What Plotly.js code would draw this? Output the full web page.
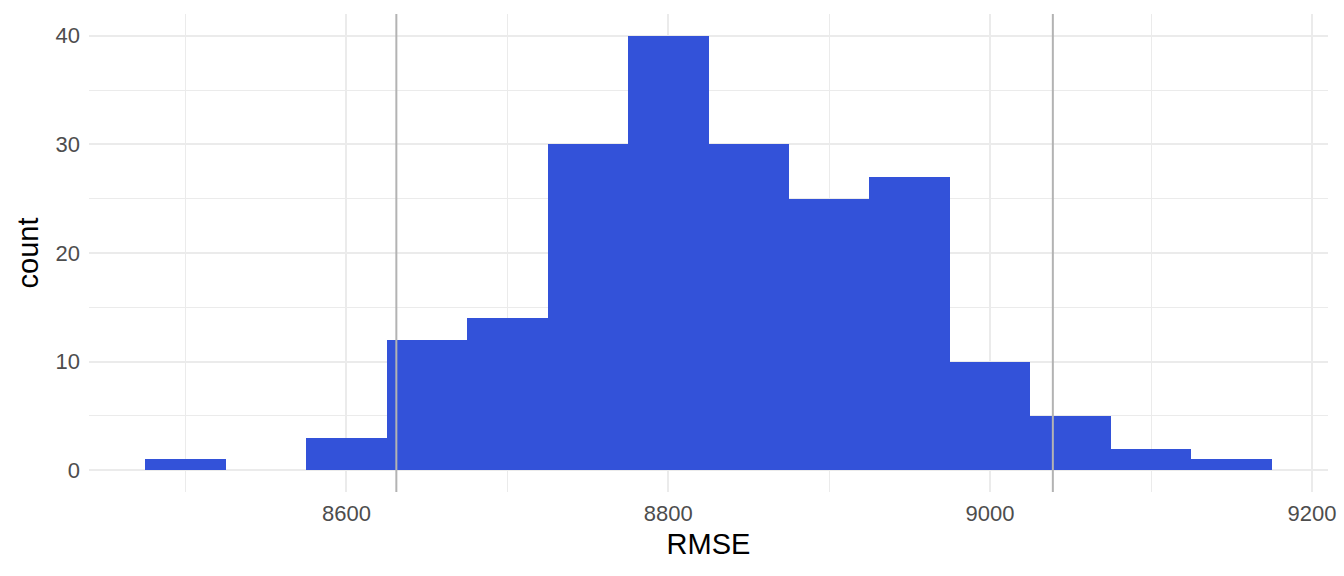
<!DOCTYPE html>
<html>
<head>
<meta charset="utf-8">
<script src="https://cdn.plot.ly/plotly-3.0.1.min.js"></script>
<style>html,body{margin:0;padding:0;background:#fff}#chart{width:1344px;height:576px}</style>
</head>
<body>
<div id="chart"></div>
<script>
const binCenters = [8500, 8550, 8600, 8650, 8700, 8750, 8800, 8850, 8900, 8950, 9000, 9050, 9100, 9150];
const counts = [1, 0, 3, 12, 14, 30, 40, 30, 25, 27, 10, 5, 2, 1];
const binWidth = 50;
const intervalLines = [8631, 9039];
const xTicks = [8600, 8800, 9000, 9200];
const yTicks = [0, 10, 20, 30, 40];

const trace = {
  type: 'bar',
  x: binCenters,
  y: counts,
  width: binCenters.map(() => binWidth),
  marker: {color: '#3352D9', line: {width: 0}},
  hoverinfo: 'x+y'
};

const shapes = intervalLines.map(v => ({
  type: 'line', xref: 'x', yref: 'paper', x0: v, x1: v, y0: 0, y1: 1,
  line: {color: '#B3B3B3', width: 2}, layer: 'above'
}));

const layout = {
  width: 1344, height: 576,
  margin: {l: 89, r: 16, t: 14, b: 84},
  paper_bgcolor: '#fff', plot_bgcolor: '#fff',
  font: {family: 'Liberation Sans, Arial, sans-serif', color: '#4D4D4D', size: 22},
  bargap: 0,
  showlegend: false,
  shapes: shapes,
  xaxis: {
    range: [8440, 9210],
    tickvals: xTicks, ticktext: xTicks.map(String),
    tickfont: {size: 22, color: '#4D4D4D'},
    showgrid: true, gridcolor: '#EBEBEB', gridwidth: 2,
    zeroline: false, showline: false, ticks: '',
    ticklabelstandoff: 6,
    minor: {dtick: 100, tick0: 8500, showgrid: true, gridcolor: '#EBEBEB', gridwidth: 1, ticks: ''},
    title: {text: 'RMSE', font: {size: 29, color: '#000'}, standoff: 8}
  },
  yaxis: {
    range: [-2, 42],
    tickvals: yTicks, ticktext: yTicks.map(String),
    tickfont: {size: 22, color: '#4D4D4D'},
    showgrid: true, gridcolor: '#EBEBEB', gridwidth: 2,
    zeroline: false, showline: false, ticks: '',
    ticklabelstandoff: 8,
    minor: {dtick: 5, tick0: 5, showgrid: true, gridcolor: '#EBEBEB', gridwidth: 1, ticks: ''},
    title: {text: 'count', font: {size: 29, color: '#000'}, standoff: 8}
  }
};

Plotly.newPlot('chart', [trace], layout, {displayModeBar: false, staticPlot: true});
</script>
</body>
</html>
